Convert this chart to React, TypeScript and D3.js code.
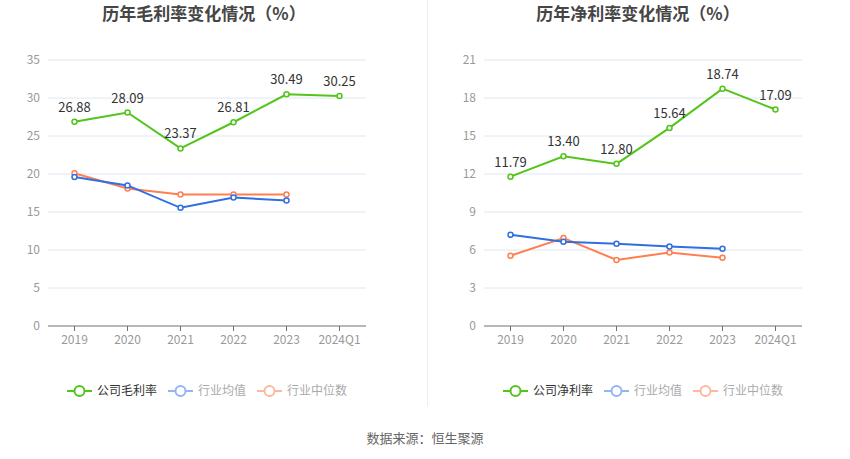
import React, { useRef, useEffect } from 'react';
import * as d3 from 'd3';

const categories = ['2019', '2020', '2021', '2022', '2023', '2024Q1'];

const grossCompany = [26.88, 28.09, 23.37, 26.81, 30.49, 30.25];
const grossIndustryAvg = [19.6, 18.5, 15.55, 16.9, 16.5];
const grossIndustryMedian = [20.1, 18.1, 17.3, 17.3, 17.3];
const grossTicks = [0, 5, 10, 15, 20, 25, 30, 35];

const netCompany = [11.79, 13.4, 12.8, 15.64, 18.74, 17.09];
const netIndustryAvg = [7.2, 6.66, 6.5, 6.28, 6.1];
const netIndustryMedian = [5.55, 6.95, 5.22, 5.8, 5.38];
const netTicks = [0, 3, 6, 9, 12, 15, 18, 21];

const GREEN = '#52c41a';
const BLUE = '#2f6fe0';
const ORANGE = '#fe7f50';
const FONT = '"Noto Sans CJK SC", "Noto Sans", sans-serif';

const drawPanel = (svg, opts) => {
    const { left, right, top, bottom, title, titleX, ticks, company, avg, median, legendNames, legendX } = opts;

    const x = d3.scaleBand().domain(categories).range([left, right]);
    const y = d3.scaleLinear().domain([0, ticks[ticks.length - 1]]).range([bottom, top]);
    const cx = d => x(d) + x.bandwidth() / 2;

    const g = svg.append('g');

    g.append('text')
        .attr('x', titleX)
        .attr('y', 20)
        .attr('text-anchor', 'middle')
        .attr('font-size', 17)
        .attr('font-weight', 'bold')
        .attr('fill', '#464646')
        .text(title);

    // grid + y labels
    g.selectAll('.grid')
        .data(ticks.slice(1))
        .enter().append('line')
        .attr('x1', left).attr('x2', right)
        .attr('y1', d => y(d)).attr('y2', d => y(d))
        .attr('stroke', '#e0e6f1');

    g.selectAll('.ylab')
        .data(ticks)
        .enter().append('text')
        .attr('x', left - 8)
        .attr('y', d => y(d))
        .attr('dy', '0.35em')
        .attr('text-anchor', 'end')
        .attr('font-size', 12)
        .attr('fill', '#999')
        .text(d => d);

    // x axis
    g.append('line')
        .attr('x1', left).attr('x2', right)
        .attr('y1', bottom).attr('y2', bottom)
        .attr('stroke', '#6e7079');

    g.selectAll('.xtick')
        .data(categories)
        .enter().append('line')
        .attr('x1', cx).attr('x2', cx)
        .attr('y1', bottom).attr('y2', bottom + 5)
        .attr('stroke', '#6e7079');

    g.selectAll('.xlab')
        .data(categories)
        .enter().append('text')
        .attr('x', cx)
        .attr('y', bottom + 18)
        .attr('text-anchor', 'middle')
        .attr('font-size', 12)
        .attr('fill', '#999')
        .text(d => d);

    const line = d3.line()
        .x((d, i) => cx(categories[i]))
        .y(d => y(d));

    const series = [
        { values: median, color: ORANGE },
        { values: avg, color: BLUE },
        { values: company, color: GREEN },
    ];

    series.forEach(s => {
        g.append('path')
            .datum(s.values)
            .attr('fill', 'none')
            .attr('stroke', s.color)
            .attr('stroke-width', 2)
            .attr('d', line);

        g.selectAll(null)
            .data(s.values)
            .enter().append('circle')
            .attr('cx', (d, i) => cx(categories[i]))
            .attr('cy', d => y(d))
            .attr('r', 2.5)
            .attr('fill', '#fff')
            .attr('stroke', s.color)
            .attr('stroke-width', 1.5);
    });

    g.selectAll('.vlab')
        .data(company)
        .enter().append('text')
        .attr('x', (d, i) => cx(categories[i]))
        .attr('y', d => y(d) - 10)
        .attr('text-anchor', 'middle')
        .attr('font-size', 13)
        .attr('fill', '#333')
        .text(d => d.toFixed(2));

    // legend
    const legendItems = [
        { name: legendNames[0], color: GREEN, text: '#333' },
        { name: legendNames[1], color: '#94b4f5', text: '#aaa' },
        { name: legendNames[2], color: '#fdb8a0', text: '#aaa' },
    ];
    const ly = 391;
    let lx = legendX;
    legendItems.forEach(item => {
        g.append('line')
            .attr('x1', lx).attr('x2', lx + 25)
            .attr('y1', ly).attr('y2', ly)
            .attr('stroke', item.color)
            .attr('stroke-width', 2);
        g.append('circle')
            .attr('cx', lx + 12.5).attr('cy', ly)
            .attr('r', 5)
            .attr('fill', '#fff')
            .attr('stroke', item.color)
            .attr('stroke-width', 2);
        g.append('text')
            .attr('x', lx + 30)
            .attr('y', ly)
            .attr('dy', '0.35em')
            .attr('font-size', 12)
            .attr('fill', item.text)
            .text(item.name);
        lx += 30 + item.name.length * 12 + 11;
    });
};

const App = () => {
    const svgRef = useRef(null);

    useEffect(() => {
        if (!svgRef.current) return;
        const svg = d3.select(svgRef.current);
        svg.selectAll('*').remove();
        svg.attr('font-family', FONT);

        drawPanel(svg, {
            left: 48, right: 366, top: 60, bottom: 326,
            title: '历年毛利率变化情况（%）', titleX: 204,
            ticks: grossTicks,
            company: grossCompany, avg: grossIndustryAvg, median: grossIndustryMedian,
            legendNames: ['公司毛利率', '行业均值', '行业中位数'],
            legendX: 67,
        });

        drawPanel(svg, {
            left: 484, right: 802, top: 60, bottom: 326,
            title: '历年净利率变化情况（%）', titleX: 638,
            ticks: netTicks,
            company: netCompany, avg: netIndustryAvg, median: netIndustryMedian,
            legendNames: ['公司净利率', '行业均值', '行业中位数'],
            legendX: 503,
        });

        svg.append('line')
            .attr('x1', 427.5).attr('x2', 427.5)
            .attr('y1', 0).attr('y2', 406)
            .attr('stroke', '#eee');

        svg.append('text')
            .attr('x', 425)
            .attr('y', 443)
            .attr('text-anchor', 'middle')
            .attr('font-size', 13)
            .attr('fill', '#666')
            .text('数据来源：恒生聚源');
    }, []);

    return (
        <div style={{ position: 'absolute', left: 0, top: 0 }}>
            <svg ref={svgRef} width="850" height="459" style={{ display: 'block', background: '#fff' }}></svg>
        </div>
    );
};

export default App;
